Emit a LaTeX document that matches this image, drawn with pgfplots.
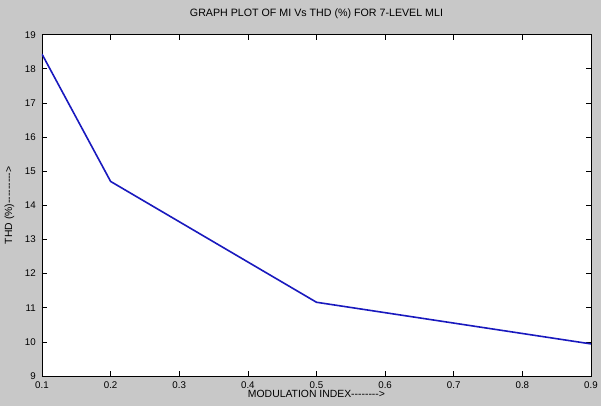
\documentclass[border=0pt]{standalone}
\usepackage{pgfplots}
\pgfplotsset{compat=1.18}
\usepackage{fontspec}
\setmainfont{Liberation Sans}[Ligatures=TeXOff]
\definecolor{figgray}{RGB}{200,200,200}
\definecolor{lineblue}{RGB}{25,25,190}
\begin{document}
\begin{tikzpicture}
\fill[figgray] (0,0) rectangle (450.75pt,304.5pt);
\useasboundingbox (0,0) rectangle (450.75pt,304.5pt);
\begin{axis}[
  at={(31.5pt,22.5pt)}, anchor=south west,
  scale only axis, width=411.75pt, height=256pt,
  xmin=0.1, xmax=0.9, ymin=9, ymax=19,
  xtick={0.1,0.2,0.3,0.4,0.5,0.6,0.7,0.8,0.9},
  ytick={9,10,11,12,13,14,15,16,17,18,19},
  xticklabels={0.1,0.2,0.3,0.4,0.5,0.6,0.7,0.8,0.9},
  tick align=inside, major tick length=4pt,
  tick style={black, line width=0.5pt},
  axis line style={black, line width=0.6pt},
  axis background/.style={fill=white},
  /pgf/number format/assume math mode=true,
  font=\fontsize{7.3}{8.5}\selectfont,
  xticklabel style={anchor=north, yshift=-1.0pt},
  yticklabel style={anchor=east, xshift=-1.1pt},
  title={GRAPH PLOT OF MI Vs THD (\%) FOR 7-LEVEL MLI},
  title style={at={(axis description cs:0.5,1)}, anchor=base, yshift=7.5pt, font=\fontsize{8}{9}\selectfont},
  xlabel={MODULATION INDEX-------->},
  xlabel style={at={(axis description cs:0.5,0)}, anchor=base, yshift=-16pt, font=\fontsize{7.8}{9}\selectfont},
  ylabel={THD (\%)--------->},
  ylabel style={at={(axis description cs:-0.0542,0.5)}, anchor=base, rotate=0, font=\fontsize{7.8}{9}\selectfont},
]
\addplot[lineblue, line width=1.2pt, mark=none] coordinates {
  (0.1,18.43) (0.2,14.70) (0.5,11.16) (0.9,9.94)
};
\end{axis}
\end{tikzpicture}
\end{document}
